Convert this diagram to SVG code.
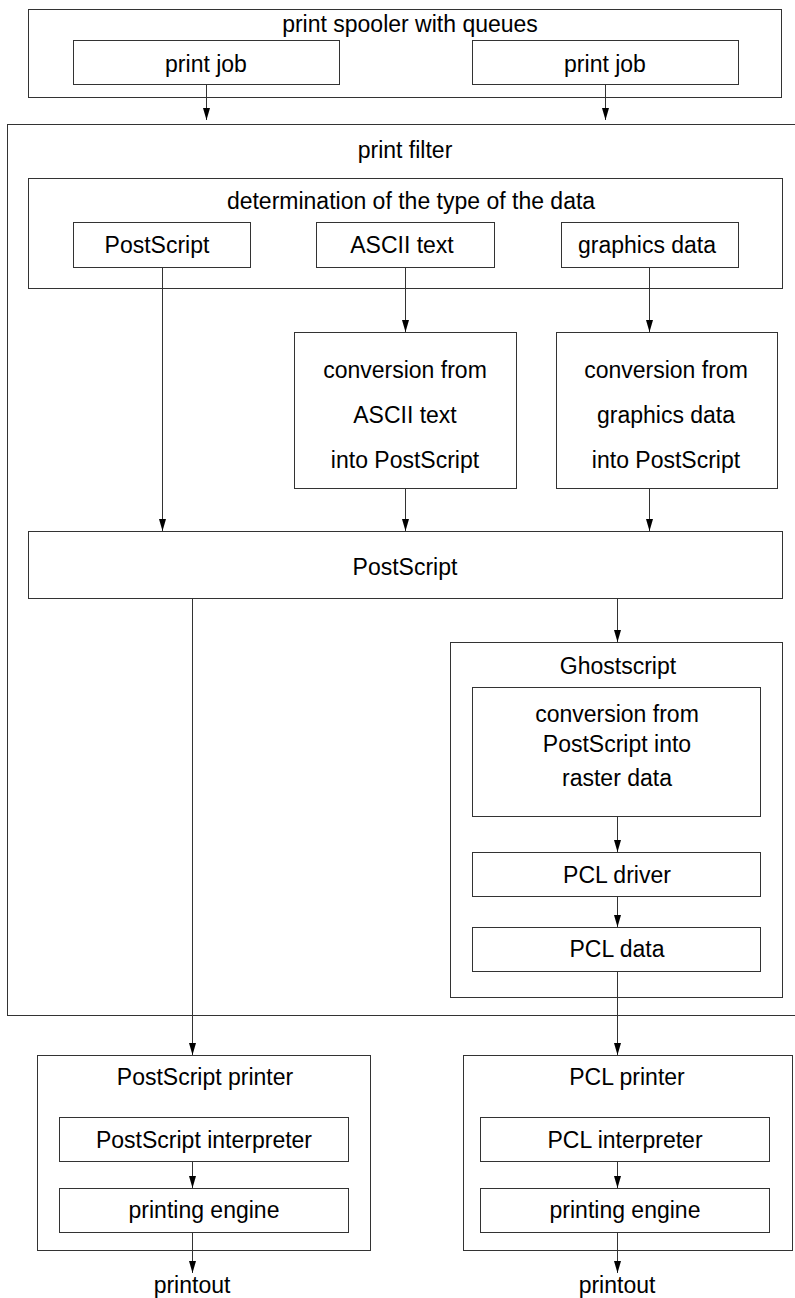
<svg xmlns="http://www.w3.org/2000/svg" width="795" height="1298" viewBox="0 0 795 1298">
<style>
.b{fill:#fff;stroke:#333;stroke-width:1}
.c{fill:none;stroke:#333;stroke-width:1}
text{font-family:"Liberation Sans",Arial,sans-serif;font-size:23px;fill:#000;text-anchor:middle}
</style>
<defs>
<marker id="ah" markerWidth="12" markerHeight="8" refX="12" refY="3.5" orient="auto" markerUnits="userSpaceOnUse">
<path d="M0,0 L12,3.5 L0,7 z" fill="#000"/>
</marker>
</defs>
<rect width="795" height="1298" fill="#fff"/>
<g id="spooler">
<rect class="b" x="28.5" y="9.5" width="753" height="88"/>
<text x="410" y="32">print spooler with queues</text>
</g>
<g id="job1"><rect class="b" x="73.5" y="40.5" width="266" height="44"/><text x="206" y="72">print job</text></g>
<g id="job2"><rect class="b" x="472.5" y="40.5" width="266" height="44"/><text x="605" y="72">print job</text></g>
<g id="filter">
<rect class="b" x="7.5" y="124.5" width="800" height="891"/>
<text x="405" y="158">print filter</text>
</g>
<g id="determination">
<rect class="b" x="28.5" y="178.5" width="754" height="110"/>
<text x="411" y="209">determination of the type of the data</text>
</g>
<g id="ps-type"><rect class="b" x="73.5" y="222.5" width="177" height="45"/><text x="157" y="253">PostScript</text></g>
<g id="ascii-type"><rect class="b" x="316.5" y="222.5" width="178" height="45"/><text x="402" y="253">ASCII text</text></g>
<g id="gfx-type"><rect class="b" x="561.5" y="222.5" width="177" height="45"/><text x="647" y="253">graphics data</text></g>
<g id="conv-ascii"><rect class="b" x="294.5" y="332.5" width="222" height="156"/>
<text x="405" y="378">conversion from</text><text x="405" y="423">ASCII text</text><text x="405" y="468">into PostScript</text></g>
<g id="conv-gfx"><rect class="b" x="556.5" y="332.5" width="221" height="156"/>
<text x="666" y="378">conversion from</text><text x="666" y="423">graphics data</text><text x="666" y="468">into PostScript</text></g>
<g id="postscript"><rect class="b" x="28.5" y="531.5" width="754" height="67"/><text x="405" y="575">PostScript</text></g>
<g id="ghostscript"><rect class="b" x="450.5" y="642.5" width="332" height="355"/><text x="618" y="674">Ghostscript</text></g>
<g id="conv-raster"><rect class="b" x="472.5" y="687.5" width="288" height="129"/>
<text x="617" y="722">conversion from</text><text x="617" y="752">PostScript into</text><text x="617" y="786">raster data</text></g>
<g id="pcl-driver"><rect class="b" x="472.5" y="852.5" width="288" height="44"/><text x="617" y="883">PCL driver</text></g>
<g id="pcl-data"><rect class="b" x="472.5" y="927.5" width="288" height="44"/><text x="617" y="957">PCL data</text></g>
<g id="ps-printer"><rect class="b" x="37.5" y="1055.5" width="333" height="195"/><text x="205" y="1085">PostScript printer</text></g>
<g id="ps-interp"><rect class="b" x="59.5" y="1117.5" width="289" height="44"/><text x="204" y="1148">PostScript interpreter</text></g>
<g id="ps-engine"><rect class="b" x="59.5" y="1188.5" width="289" height="44"/><text x="204" y="1218">printing engine</text></g>
<g id="pcl-printer"><rect class="b" x="463.5" y="1055.5" width="329" height="195"/><text x="627" y="1085">PCL printer</text></g>
<g id="pcl-interp"><rect class="b" x="480.5" y="1117.5" width="289" height="44"/><text x="625" y="1148">PCL interpreter</text></g>
<g id="pcl-engine"><rect class="b" x="480.5" y="1188.5" width="289" height="44"/><text x="625" y="1218">printing engine</text></g>
<g id="out1"><text x="192" y="1293">printout</text></g>
<g id="out2"><text x="617" y="1293">printout</text></g>
<g id="connectors" class="c">
<line class="c" x1="206.5" y1="84.5" x2="206.5" y2="120" marker-end="url(#ah)"/>
<line class="c" x1="605.5" y1="84.5" x2="605.5" y2="120" marker-end="url(#ah)"/>
<line class="c" x1="162.5" y1="267.5" x2="162.5" y2="531" marker-end="url(#ah)"/>
<line class="c" x1="405.5" y1="267.5" x2="405.5" y2="332" marker-end="url(#ah)"/>
<line class="c" x1="649.5" y1="267.5" x2="649.5" y2="332" marker-end="url(#ah)"/>
<line class="c" x1="405.5" y1="488.5" x2="405.5" y2="531" marker-end="url(#ah)"/>
<line class="c" x1="649.5" y1="488.5" x2="649.5" y2="531" marker-end="url(#ah)"/>
<line class="c" x1="617.5" y1="598.5" x2="617.5" y2="642" marker-end="url(#ah)"/>
<line class="c" x1="617.5" y1="816.5" x2="617.5" y2="852" marker-end="url(#ah)"/>
<line class="c" x1="617.5" y1="896.5" x2="617.5" y2="927" marker-end="url(#ah)"/>
<line class="c" x1="617.5" y1="971.5" x2="617.5" y2="1055" marker-end="url(#ah)"/>
<line class="c" x1="192.5" y1="598.5" x2="192.5" y2="1055" marker-end="url(#ah)"/>
<line class="c" x1="192.5" y1="1161.5" x2="192.5" y2="1188" marker-end="url(#ah)"/>
<line class="c" x1="192.5" y1="1232.5" x2="192.5" y2="1273" marker-end="url(#ah)"/>
<line class="c" x1="617.5" y1="1161.5" x2="617.5" y2="1188" marker-end="url(#ah)"/>
<line class="c" x1="617.5" y1="1232.5" x2="617.5" y2="1273" marker-end="url(#ah)"/>
</g>
</svg>
